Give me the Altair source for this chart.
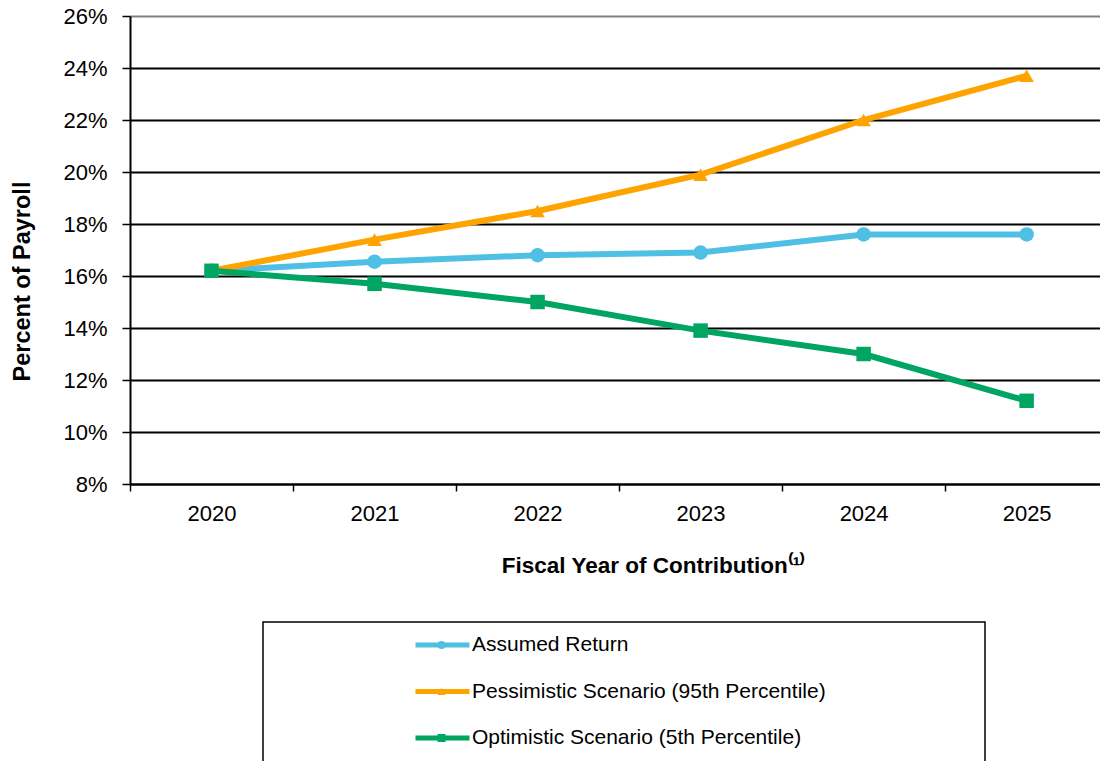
import altair as alt
import pandas as pd

years = [2020, 2021, 2022, 2023, 2024, 2025]
series_names = [
    "Assumed Return",
    "Pessimistic Scenario (95th Percentile)",
    "Optimistic Scenario (5th Percentile)",
]
assumed = [16.2, 16.55, 16.8, 16.9, 17.6, 17.6]
pessimistic = [16.2, 17.4, 18.5, 19.9, 22.0, 23.7]
optimistic = [16.2, 15.7, 15.0, 13.9, 13.0, 11.2]
colors = ["#4FBFE3", "#FFA300", "#00A562"]
shapes = ["circle", "triangle-up", "square"]
y_ticks = [8, 10, 12, 14, 16, 18, 20, 22, 24, 26]
x_boundaries = [y - 0.5 for y in years]

rows = []
for name, vals in zip(series_names, [assumed, pessimistic, optimistic]):
    for yr, v in zip(years, vals):
        rows.append({"series": name, "line_series": name, "year": yr, "value": v})
df = pd.DataFrame(rows)

FONT = "Liberation Sans"

x_axis = alt.Axis(
    values=x_boundaries,
    labelExpr="format(datum.value + 0.5, 'd')",
    labelOffset=81.5,
    grid=False,
    domainColor="black",
    domainWidth=2,
    tickColor="black",
    tickSize=7,
    tickWidth=1.5,
    labelFontSize=22,
    labelColor="black",
    labelPadding=12,
    labelFlush=False,
    labelOverlap=False,
    labelBound=False,
    title="Fiscal Year of Contribution\u207d\u00b9\u207e",
    titleFontSize=22.5,
    titleFontWeight="bold",
    titleColor="black",
    titleX=523,
    titleY=81,
    titleBaseline="middle",
    titleAlign="center",
)

y_axis = alt.Axis(
    values=y_ticks,
    labelExpr="datum.value + '%'",
    grid=True,
    gridColor=alt.condition("datum.value >= 26", alt.value("#808080"), alt.value("black")),
    gridWidth=2,
    domainColor="black",
    domainWidth=2,
    tickColor="black",
    tickSize=8,
    tickWidth=1.5,
    labelFontSize=22,
    labelColor="black",
    labelPadding=15,
    title="Percent of Payroll",
    titleFontSize=23.5,
    titleFontWeight="bold",
    titleColor="black",
    titleX=-108,
    titleY=265,
    titleAlign="center",
    titleBaseline="middle",
)

xs = alt.Scale(domain=[2019.5, 2025.45], nice=False, zero=False)
ys = alt.Scale(domain=[8, 26], nice=False, zero=False)

line = alt.Chart(df).mark_line(strokeWidth=6).encode(
    x=alt.X("year:Q", scale=xs, axis=x_axis),
    y=alt.Y("value:Q", scale=ys, axis=y_axis),
    stroke=alt.Stroke(
        "line_series:N",
        sort=series_names,
        scale=alt.Scale(range=colors),
        legend=alt.Legend(
            title=None,
            orient="none",
            legendX=283,
            legendY=618,
            direction="vertical",
            symbolType="stroke",
            symbolSize=2916,
            symbolStrokeWidth=5,
            labelFontSize=21,
            labelColor="black",
            labelOffset=0,
            labelLimit=700,
            clipHeight=22,
            rowPadding=24.5,
            padding=0,
        ),
    ),
    order=alt.Order("year:Q"),
)

pt_legend = dict(
    title=None,
    orient="none",
    legendX=301,
    legendY=618,
    direction="vertical",
    symbolSize=64,
    symbolStrokeWidth=0,
    labelFontSize=21,
    labelExpr="''",
    labelLimit=700,
    clipHeight=22,
    rowPadding=24.5,
    padding=0,
)

points = alt.Chart(df).mark_point(filled=True, size=210, opacity=1).encode(
    x=alt.X("year:Q", scale=xs),
    y=alt.Y("value:Q", scale=ys),
    fill=alt.Fill(
        "series:N",
        scale=alt.Scale(domain=series_names, range=colors),
        legend=alt.Legend(**pt_legend),
    ),
    shape=alt.Shape(
        "series:N",
        scale=alt.Scale(domain=series_names, range=shapes),
        legend=alt.Legend(**pt_legend),
    ),
)

box = alt.Chart(pd.DataFrame({"k": [0]})).mark_rect(
    fill="transparent", stroke="black", strokeWidth=1.5
).encode(
    x=alt.value(133), x2=alt.value(855), y=alt.value(606), y2=alt.value(820)
)

chart = alt.layer(box, line, points).properties(
    width=970,
    height=468,
    padding={"left": 130, "top": 16, "right": 0, "bottom": 277},
    autosize=alt.AutoSizeParams(type="none"),
    background="white",
).configure(font=FONT).configure_view(strokeOpacity=0)

chart.save("out.html", embed_options={"renderer": "svg", "actions": False})
